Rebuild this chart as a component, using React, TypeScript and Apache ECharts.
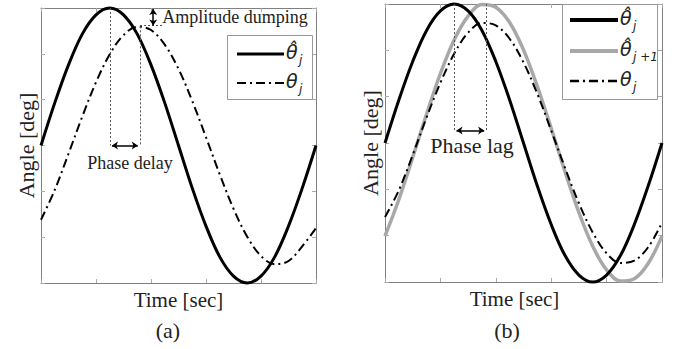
import React, { useEffect, useRef } from "react";
import * as echarts from "echarts";

// time samples [sec]
const T = [0, 0.25, 0.5, 0.75, 1, 1.25, 1.5, 1.75, 2, 2.25, 2.5, 2.75, 3, 3.25, 3.5, 3.75, 4, 4.25, 4.5, 4.75, 5];
// panel (a)
const refA = [3, 3.93, 4.76, 5.43, 5.85, 6, 5.85, 5.43, 4.76, 3.93, 3, 2.07, 1.24, 0.57, 0.15, 0, 0.15, 0.57, 1.24, 2.07, 3];
const measA = [1.38, 2.03, 2.82, 3.63, 4.38, 4.99, 5.41, 5.59, 5.52, 5.2, 4.67, 3.97, 3.18, 2.37, 1.62, 1.01, 0.59, 0.41, 0.48, 0.8, 1.2];
// panel (b)
const refB = [3, 3.93, 4.76, 5.43, 5.85, 6, 5.85, 5.43, 4.76, 3.93, 3, 2.07, 1.24, 0.57, 0.15, 0, 0.15, 0.57, 1.24, 2.07, 3];
const nextB = [0.99, 1.78, 2.69, 3.62, 4.5, 5.23, 5.74, 5.99, 5.93, 5.6, 5.01, 4.22, 3.32, 2.38, 1.5, 0.77, 0.26, 0.02, 0.07, 0.4, 0.99];
const measB = [1.4, 1.98, 2.74, 3.55, 4.3, 4.93, 5.38, 5.59, 5.54, 5.25, 4.74, 4.06, 3.27, 2.46, 1.7, 1.07, 0.62, 0.41, 0.46, 0.75, 1.28];

const SERIF = "Liberation Serif";
const SANS = "DejaVu Sans";
const DASHDOT = [9, 4, 2, 4];
const SMOOTH = 0.35;

const pts = (ys: number[]) => T.map((t, i) => [t, ys[i]]);

const dotted = { color: "#555", width: 1, type: [2, 2] as any };

function App() {
  const ref = useRef<HTMLDivElement>(null);
  useEffect(() => {
    if (!ref.current) return;
    const chart = echarts.init(ref.current, undefined, { renderer: "svg" });

    const frameLine = { show: true, lineStyle: { color: "#808080", width: 1 } };
    const tick = { show: true, inside: true, length: 4, lineStyle: { color: "#aaa" } };
    const xBase = (grid: number, pos: string, name?: string, pad?: number[]) => ({
      type: "value",
      gridIndex: grid,
      position: pos,
      min: 0,
      max: 5,
      interval: 1,
      axisLine: { ...frameLine, onZero: false },
      axisTick: tick,
      axisLabel: { show: false },
      splitLine: { show: false },
      name: name || "",
      nameLocation: "middle",
      nameGap: 6,
      nameTextStyle: { fontFamily: SERIF, fontSize: 21, color: "#222", verticalAlign: "top", padding: pad || 0 },
    });
    const yBase = (grid: number, pos: string, name?: string) => ({
      type: "value",
      gridIndex: grid,
      position: pos,
      min: 0,
      max: 6,
      interval: 1,
      axisLine: { ...frameLine, onZero: false },
      axisTick: tick,
      axisLabel: { show: false },
      splitLine: { show: false },
      name: name || "",
      nameLocation: "middle",
      nameGap: 4,
      nameRotate: 90,
      nameTextStyle: { fontFamily: SERIF, fontSize: 22, color: "#222" },
    });

    const arrowLine = (a: number[], b: number[]) => [
      { coord: a, symbol: "arrow" },
      { coord: b, symbol: "arrow" },
    ];

    const legendText = (x: number, y: number, sub: string, hat: boolean) => [
      {
        type: "text",
        style: {
          text: hat ? "θ\u0302" : "θ",
          x,
          y,
          fontFamily: SANS,
          fontStyle: "italic",
          fontSize: 19,
          fill: "#222",
          verticalAlign: "middle",
        },
      },
      {
        type: "text",
        style: {
          text: sub,
          x: x + 13,
          y: y + 8,
          fontFamily: SANS,
          fontStyle: "italic",
          fontSize: 12,
          fill: "#222",
          verticalAlign: "middle",
        },
      },
    ];

    const hline = (x1: number, x2: number, y: number, stroke: string, w: number, dash?: number[]) => ({
      type: "line",
      shape: { x1, y1: y, x2, y2: y },
      style: { stroke, lineWidth: w, lineDash: dash },
    });

    const serifText = (text: string, x: number, y: number, size: number) => ({
      type: "text",
      style: { text, x, y, fontFamily: SERIF, fontSize: size, fill: "#222", align: "center", verticalAlign: "middle" },
    });

    const lineSeries = (name: string, ax: number, ys: number[], style: any, extra?: any) => ({
      name,
      type: "line",
      xAxisIndex: ax,
      yAxisIndex: ax,
      data: pts(ys),
      smooth: SMOOTH,
      clip: false,
      showSymbol: false,
      lineStyle: style,
      ...(extra || {}),
    });

    chart.setOption({
      animation: false,
      backgroundColor: "#fff",
      grid: [
        { left: 41, top: 8, width: 275, height: 275 },
        { left: 385, top: 4, width: 277, height: 278 },
      ],
      xAxis: [
        xBase(0, "bottom", "Time [sec]"),
        xBase(0, "top"),
        xBase(1, "bottom", "Time [sec]", [0, 18, 0, 0]),
        xBase(1, "top"),
      ],
      yAxis: [yBase(0, "left", "Angle [deg]"), yBase(0, "right"), yBase(1, "left", "Angle [deg]"), yBase(1, "right")],
      series: [
        lineSeries("θ̂j (a)", 0, refA, { color: "#000", width: 3 }, {
          markLine: {
            silent: true,
            symbol: "none",
            label: { show: false },
            lineStyle: dotted,
            data: [
              [{ coord: [1.25, 6] }, { coord: [1.25, 3.0] }],
              [{ coord: [1.8, 5.6] }, { coord: [1.8, 3.0] }],
              [{ coord: [1.8, 5.62] }, { coord: [2.2, 5.62] }],
            ],
          },
        }),
        lineSeries("θj (a)", 0, measA, { color: "#000", width: 2, type: DASHDOT }, {
          markLine: {
            silent: true,
            symbolSize: 6,
            label: { show: false },
            lineStyle: { color: "#000", width: 1.5, type: "solid" },
            data: [arrowLine([1.29, 3.0], [1.76, 3.0]), arrowLine([2.04, 5.98], [2.04, 5.62])],
          },
        }),
        lineSeries("θ̂j+1 (b)", 2, nextB, { color: "#a8a8a8", width: 3.5 }),
        lineSeries("θ̂j (b)", 2, refB, { color: "#000", width: 3 }, {
          markLine: {
            silent: true,
            symbol: "none",
            label: { show: false },
            lineStyle: dotted,
            data: [
              [{ coord: [1.25, 6] }, { coord: [1.25, 3.27] }],
              [{ coord: [1.83, 6] }, { coord: [1.83, 3.27] }],
            ],
          },
        }),
        lineSeries("θj (b)", 2, measB, { color: "#000", width: 2, type: DASHDOT }, {
          markLine: {
            silent: true,
            symbolSize: 6,
            label: { show: false },
            lineStyle: { color: "#000", width: 1.5, type: "solid" },
            data: [arrowLine([1.29, 3.27], [1.79, 3.27])],
          },
        }),
      ],
      graphic: [
        // annotations
        serifText("Amplitude dumping", 235, 17, 18),
        serifText("Phase delay", 130, 163, 18),
        serifText("Phase lag", 472, 145, 22),
        serifText("(a)", 168, 330, 22),
        serifText("(b)", 507, 330, 22),
        // legend (a)
        {
          type: "rect",
          shape: { x: 227.5, y: 35.5, width: 85, height: 64 },
          style: { fill: "#fff", stroke: "#999", lineWidth: 1 },
          z: 10,
        },
        { ...hline(237, 284, 54, "#000", 3), z: 11 },
        { ...hline(237, 284, 83, "#000", 2, DASHDOT), z: 11 },
        ...legendText(286, 52, "j", true).map((e) => ({ ...e, z: 11 })),
        ...legendText(286, 81, "j", false).map((e) => ({ ...e, z: 11 })),
        // legend (b)
        {
          type: "rect",
          shape: { x: 562.5, y: 4.5, width: 95, height: 95 },
          style: { fill: "#fff", stroke: "#999", lineWidth: 1 },
          z: 10,
        },
        { ...hline(570, 618, 20, "#000", 4), z: 11 },
        { ...hline(570, 618, 51, "#a8a8a8", 4), z: 11 },
        { ...hline(570, 618, 81, "#000", 2.5, DASHDOT), z: 11 },
        ...legendText(620, 18, "j", true).map((e) => ({ ...e, z: 11 })),
        ...legendText(620, 49, "j +1", true).map((e) => ({ ...e, z: 11 })),
        ...legendText(620, 79, "j", false).map((e) => ({ ...e, z: 11 })),
      ],
    });
    return () => chart.dispose();
  }, []);
  return <div ref={ref} style={{ position: "absolute", left: 0, top: 0, width: 677, height: 349 }} />;
}

export default App;
